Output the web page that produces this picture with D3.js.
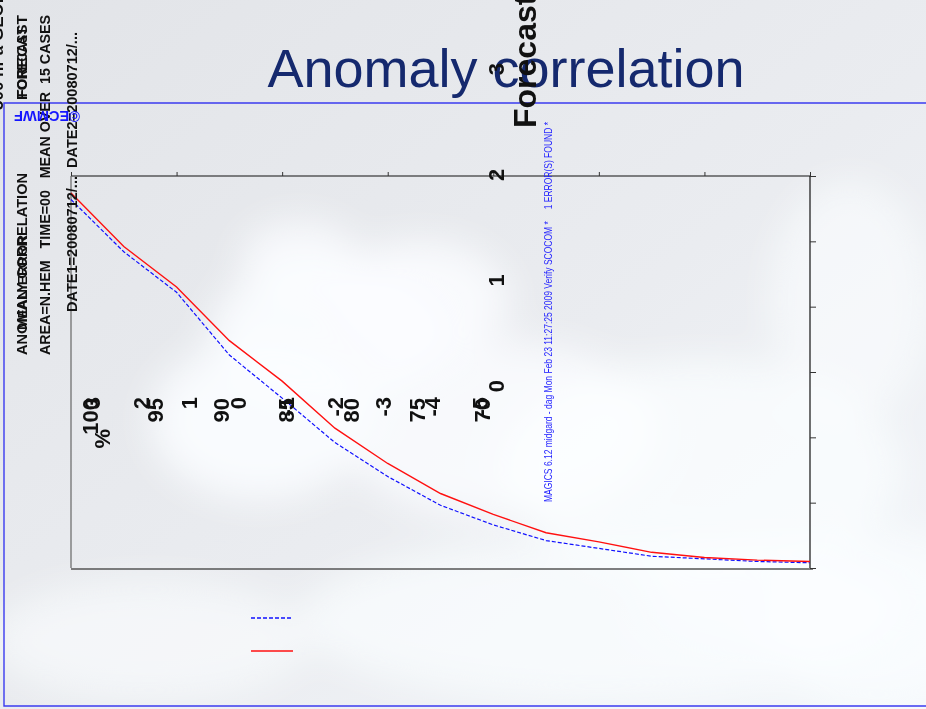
<!DOCTYPE html>
<html>
<head>
<meta charset="utf-8">
<script src="https://cdn.jsdelivr.net/npm/d3@7"></script>
<style>
  html, body { margin: 0; padding: 0; background: #f3f6fa; }
  svg { display: block; font-family: "Liberation Sans", Arial, sans-serif; }
</style>
</head>
<body>
<div id="chart"></div>
<script>
// Forecast step (days) and the two scores
const steps = [0, 0.5, 1, 1.5, 2, 2.5, 3, 3.5, 4, 4.5, 5, 5.5, 6, 6.5, 7];
const seriesRed  = [98.7, 94.6, 91.5, 87.4, 84.3, 80.7, 78.0, 75.7, 74.1, 72.7, 72.0, 71.2, 70.8, 70.6, 70.5];
const seriesBlue = [98.2, 94.2, 91.1, 86.3, 83.0, 79.6, 77.0, 74.8, 73.3, 72.1, 71.5, 70.9, 70.7, 70.5, 70.4];

// tick labels (drawn in the odd, rotated way the original plot has them)
const yTickLabels = [100, 95, 90, 85, 80, 75, 70];
const dayTicks = [0, 1, 2, 3, 4, 5, 6, 7];
const dayLabels = [0, 1, 2, 3];   // the rest fall off the top of the page
const offsetLabels = [3, 2, 1, 0, -1, -2, -3, -4, -5];

const W = 926, H = 709;

const svg = d3.select("#chart").append("svg")
  .attr("width", W)
  .attr("height", H);

// ── background: light sky with soft clouds ──
const defs = svg.append("defs");
const bg = defs.append("linearGradient").attr("id", "bg")
  .attr("x1", "0").attr("y1", "0").attr("x2", "1").attr("y2", "1");
bg.append("stop").attr("offset", "0%").attr("stop-color", "#e2e4e8");
bg.append("stop").attr("offset", "55%").attr("stop-color", "#eaecf0");
bg.append("stop").attr("offset", "100%").attr("stop-color", "#f4f7fb");

defs.append("filter").attr("id", "blur")
  .attr("x", "-50%").attr("y", "-50%").attr("width", "200%").attr("height", "200%")
  .append("feGaussianBlur").attr("stdDeviation", 18);

svg.append("rect").attr("width", W).attr("height", H).attr("fill", "url(#bg)");

const clouds = svg.append("g").attr("filter", "url(#blur)");
[
  [330, 330, 120, 70, 0.9], [420, 300, 90, 60, 0.85], [260, 420, 110, 80, 0.9],
  [500, 430, 160, 90, 0.8], [700, 470, 200, 110, 0.75], [850, 300, 80, 120, 0.6],
  [600, 620, 300, 80, 0.7], [150, 640, 160, 60, 0.6], [880, 620, 120, 90, 0.7],
  [300, 260, 60, 40, 0.8], [780, 600, 140, 60, 0.6]
].forEach(([cx, cy, rx, ry, o]) => {
  clouds.append("ellipse")
    .attr("cx", cx).attr("cy", cy).attr("rx", rx).attr("ry", ry)
    .attr("fill", "#fbfdff").attr("opacity", o);
});

// ── slide frame and title ──
const frameColor = "#3b3bf0";
svg.append("path")
  .attr("d", `M${W},103 H4 V706 H${W}`)
  .attr("fill", "none")
  .attr("stroke", frameColor)
  .attr("stroke-width", 1.4);

svg.append("text")
  .attr("x", 506).attr("y", 87)
  .attr("text-anchor", "middle")
  .attr("font-size", 54)
  .attr("fill", "#15296e")
  .text("Anomaly correlation");

// ── plot scales ──
const x = d3.scaleLinear().domain([0, 7]).range([71, 810]);
const y = d3.scaleLinear().domain([70, 100]).range([568, 176]);

// helper for text turned 90° counter-clockwise
function vtext(g, px, py, str, opts = {}) {
  const t = g.append("text")
    .attr("transform", `translate(${px},${py}) rotate(-90)`)
    .attr("text-anchor", opts.anchor || "start")
    .attr("font-size", opts.size || 14)
    .attr("font-weight", opts.weight || "bold")
    .attr("fill", opts.fill || "#111")
    .style("white-space", "pre")
    .text(str);
  if (opts.len) t.attr("textLength", opts.len).attr("lengthAdjust", "spacingAndGlyphs");
  return t;
}

const plot = svg.append("g");

// axis frame
plot.append("line").attr("x1", x(0)).attr("x2", x(7)).attr("y1", y(100)).attr("y2", y(100))
  .attr("stroke", "#111").attr("stroke-width", 1.2);
plot.append("line").attr("x1", x(7)).attr("x2", x(7)).attr("y1", y(100)).attr("y2", y(70))
  .attr("stroke", "#111").attr("stroke-width", 1.2);
plot.append("line").attr("x1", x(0)).attr("x2", x(0)).attr("y1", y(100)).attr("y2", y(70))
  .attr("stroke", "#666").attr("stroke-width", 1.2);
plot.append("line").attr("x1", x(0)).attr("x2", x(7) + 3).attr("y1", y(70) + 1).attr("y2", y(70) + 1)
  .attr("stroke", "#555").attr("stroke-width", 1.6);

// ticks on top and right
plot.append("g").attr("transform", `translate(0,${y(100)})`)
  .call(d3.axisTop(x).tickValues(dayTicks).tickSize(4).tickFormat(""))
  .call(g => g.select(".domain").remove())
  .call(g => g.selectAll("line").attr("stroke", "#333"));
plot.append("g").attr("transform", `translate(${x(7)},0)`)
  .call(d3.axisRight(y).tickValues(yTickLabels).tickSize(6).tickFormat(""))
  .call(g => g.select(".domain").remove())
  .call(g => g.selectAll("line").attr("stroke", "#333"));

// series
const line = d3.line().x((d, i) => x(steps[i])).y(d => y(d));
plot.append("path").datum(seriesBlue)
  .attr("d", line).attr("fill", "none")
  .attr("stroke", "#1010ff").attr("stroke-width", 1.2)
  .attr("stroke-dasharray", "4,2");
plot.append("path").datum(seriesRed)
  .attr("d", line).attr("fill", "none")
  .attr("stroke", "#ff1010").attr("stroke-width", 1.4);

// legend
const leg = svg.append("g");
leg.append("line").attr("x1", 251).attr("x2", 293).attr("y1", 618).attr("y2", 618)
  .attr("stroke", "#1010ff").attr("stroke-width", 1.4).attr("stroke-dasharray", "4,2");
leg.append("line").attr("x1", 251).attr("x2", 293).attr("y1", 651).attr("y2", 651)
  .attr("stroke", "#ff1010").attr("stroke-width", 1.6);

// ── the rotated, overlapping labels of the original plot ──
const labels = svg.append("g");

// value labels laid out along x
const yLabX = d3.scaleLinear().domain([100, 70]).range([89, 481]);
yTickLabels.forEach(v => vtext(labels, yLabX(v) + 9, 398, String(v), { anchor: "end", size: 22 }));
vtext(labels, 110, 429, "%", { anchor: "end", size: 22 });

const offLabX = d3.scaleLinear().domain([3, -5]).range([92, 480]);
offsetLabels.forEach(v => vtext(labels, offLabX(v) + 8, 397, String(v), { anchor: "end", size: 22 }));

// forecast day labels laid out along y
const dayLabY = d3.scaleLinear().domain([0, 7]).range([386, 386 - 7 * 105.6]);
dayLabels.forEach(d => vtext(labels, 504, dayLabY(d), String(d), { anchor: "middle", size: 22 }));

vtext(labels, 536, 128, "Forecast", { size: 32 });

// header text on the left
vtext(labels, 3, 110, "500 hPa GEOPOTENTIAL", { size: 17 });
vtext(labels, 27, 355, "ANOMALY CORRELATION", { size: 14, len: 182 });
vtext(labels, 27, 330, "MEAN ERROR", { size: 12, len: 95 });
vtext(labels, 27, 100, "FORECAST", { size: 14, len: 85 });
vtext(labels, 27, 97, "FORECAST", { size: 14, len: 70 });
vtext(labels, 50, 355, "AREA=N.HEM   TIME=00   MEAN OVER  15 CASES", { size: 14, len: 340 });
vtext(labels, 77, 312, "DATE1=20080712/...  DATE2=20080712/...", { size: 14, len: 280 });

// upside-down logo
labels.append("text")
  .attr("transform", "translate(47,111) rotate(180)")
  .attr("text-anchor", "middle")
  .attr("font-size", 14)
  .attr("font-weight", "bold")
  .attr("fill", "#1515ff")
  .attr("textLength", 66)
  .attr("lengthAdjust", "spacingAndGlyphs")
  .text("©ECMWF");

// plotting-package stamp
vtext(labels, 552, 502, "MAGICS 6.12 midgard - dag Mon Feb 23 11:27:25 2009 Verify SCOCOM *     1 ERROR(S) FOUND *",
  { size: 11.5, weight: "normal", fill: "#2424ff", len: 380 });
</script>
</body>
</html>
